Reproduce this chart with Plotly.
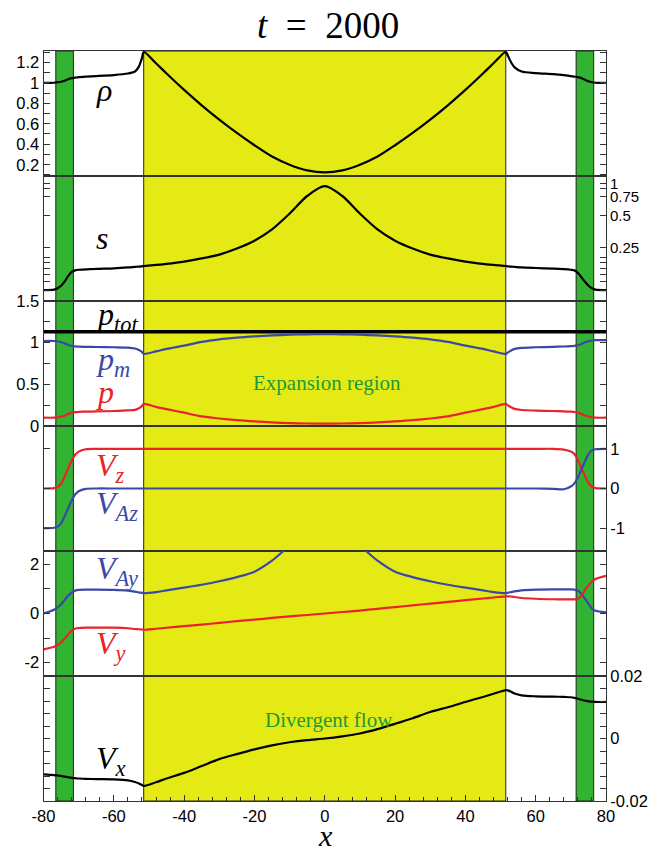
import plotly.graph_objects as go

# ---- sample positions along x (shared by all profiles) ----
x = [-80, -77, -76, -75, -74, -73, -72, -71, -70, -68, -65, -60, -56, -54, -53, -52, -51.5,
     -48, -45, -40, -35, -30, -25, -20, -15, -10, -5, 0, 5, 10, 15, 20, 25, 30, 35, 40, 45, 48,
     51.5, 52, 53, 54, 56, 60, 65, 68, 70, 71, 72, 73, 74, 75, 76, 77, 80]

rho = [1.00, 1.00, 1.005, 1.01, 1.02, 1.035, 1.045, 1.05, 1.055, 1.06, 1.065, 1.075, 1.09, 1.11, 1.15, 1.24, 1.30,
       1.19, 1.09, 0.93, 0.78, 0.64, 0.51, 0.39, 0.28, 0.20, 0.145, 0.125, 0.145, 0.20, 0.28, 0.39, 0.51, 0.64, 0.78, 0.93, 1.09, 1.19,
       1.30, 1.27, 1.20, 1.15, 1.11, 1.095, 1.085, 1.075, 1.065, 1.06, 1.055, 1.045, 1.03, 1.015, 1.005, 1.00, 1.00]

s = [0.100, 0.101, 0.104, 0.110, 0.120, 0.135, 0.148, 0.153, 0.155, 0.156, 0.158, 0.160, 0.163, 0.165, 0.166, 0.167, 0.168,
     0.172, 0.176, 0.185, 0.198, 0.215, 0.245, 0.29, 0.37, 0.52, 0.76, 0.94, 0.76, 0.52, 0.37, 0.29, 0.245, 0.215, 0.198, 0.185, 0.176, 0.172,
     0.168, 0.167, 0.166, 0.165, 0.163, 0.161, 0.159, 0.157, 0.155, 0.153, 0.145, 0.132, 0.120, 0.110, 0.104, 0.101, 0.100]

p = [0.100, 0.100, 0.105, 0.112, 0.124, 0.143, 0.159, 0.166, 0.170, 0.172, 0.175, 0.180, 0.188, 0.193, 0.210, 0.239, 0.265,
     0.230, 0.203, 0.160, 0.115, 0.090, 0.070, 0.055, 0.043, 0.035, 0.030, 0.028, 0.030, 0.035, 0.043, 0.055, 0.070, 0.090, 0.115, 0.160, 0.203, 0.230,
     0.265, 0.250, 0.225, 0.205, 0.192, 0.185, 0.180, 0.176, 0.172, 0.168, 0.160, 0.145, 0.126, 0.113, 0.105, 0.100, 0.100]

pm = [1.020, 1.020, 1.015, 1.005, 0.990, 0.975, 0.960, 0.955, 0.952, 0.950, 0.948, 0.945, 0.940, 0.930, 0.915, 0.890, 0.865,
      0.895, 0.925, 0.965, 1.010, 1.040, 1.060, 1.075, 1.087, 1.095, 1.100, 1.102, 1.100, 1.095, 1.087, 1.075, 1.060, 1.040, 1.010, 0.965, 0.925, 0.895,
      0.865, 0.880, 0.905, 0.925, 0.938, 0.945, 0.950, 0.954, 0.958, 0.962, 0.970, 0.985, 1.004, 1.017, 1.025, 1.030, 1.030]

x_ends = [-80, 80]
ptot = [1.13, 1.13]

vz = [0.0, 0.01, 0.04, 0.12, 0.30, 0.50, 0.70, 0.85, 0.93, 0.99, 1.0, 1.0, 1.0, 1.0, 1.0, 1.0, 1.0,
      1.0, 1.0, 1.0, 1.0, 1.0, 1.0, 1.0, 1.0, 1.0, 1.0, 1.0, 1.0, 1.0, 1.0, 1.0, 1.0, 1.0, 1.0, 1.0, 1.0, 1.0,
      1.0, 1.0, 1.0, 1.0, 1.0, 1.0, 1.0, 0.98, 0.93, 0.87, 0.72, 0.52, 0.32, 0.14, 0.04, 0.01, 0.0]

vaz = [-1.0, -0.99, -0.96, -0.88, -0.70, -0.50, -0.30, -0.15, -0.07, -0.01, 0.0, 0.0, 0.0, 0.0, 0.0, 0.0, 0.0,
       0.0, 0.0, 0.0, 0.0, 0.0, 0.0, 0.0, 0.0, 0.0, 0.0, 0.0, 0.0, 0.0, 0.0, 0.0, 0.0, 0.0, 0.0, 0.0, 0.0, 0.0,
       0.0, 0.0, 0.0, 0.0, 0.0, 0.0, -0.01, -0.02, 0.05, 0.13, 0.28, 0.48, 0.68, 0.86, 0.96, 0.99, 1.0]

vy = [-1.46, -1.35, -1.28, -1.18, -1.02, -0.85, -0.70, -0.62, -0.59, -0.575, -0.57, -0.575, -0.60, -0.63, -0.64, -0.65, -0.66,
      -0.62, -0.58, -0.51, -0.45, -0.38, -0.31, -0.25, -0.18, -0.12, -0.06, 0.0, 0.06, 0.12, 0.19, 0.26, 0.33, 0.40, 0.47, 0.54, 0.61, 0.65,
      0.70, 0.70, 0.69, 0.67, 0.63, 0.60, 0.58, 0.575, 0.57, 0.575, 0.60, 0.72, 0.95, 1.15, 1.30, 1.40, 1.53]

vay = [0.0, 0.15, 0.25, 0.38, 0.55, 0.72, 0.85, 0.93, 0.96, 0.97, 0.97, 0.96, 0.93, 0.89, 0.86, 0.84, 0.83,
       0.87, 0.94, 1.05, 1.17, 1.31, 1.48, 1.70, 2.15, 2.75, 3.20, 3.40, 3.20, 2.75, 2.15, 1.70, 1.48, 1.31, 1.17, 1.05, 0.94, 0.87,
       0.83, 0.84, 0.87, 0.90, 0.94, 0.97, 0.98, 0.98, 0.98, 0.97, 0.93, 0.80, 0.60, 0.40, 0.20, 0.11, 0.05]

vx = [-0.0115, -0.0117, -0.0118, -0.0120, -0.0122, -0.0124, -0.0126, -0.0127, -0.0128, -0.0129, -0.0130, -0.0131, -0.0134, -0.0139, -0.0143, -0.0149, -0.0152,
      -0.0140, -0.0128, -0.0110, -0.0088, -0.0066, -0.0050, -0.0035, -0.0022, -0.0012, -0.0005, 0.0, 0.0007, 0.0016, 0.0030, 0.0047, 0.0065, 0.0085, 0.0100, 0.0117, 0.0133, 0.0143,
      0.0155, 0.0154, 0.0150, 0.0144, 0.0138, 0.0135, 0.0134, 0.0133, 0.0132, 0.0130, 0.0127, 0.0124, 0.0121, 0.0119, 0.0118, 0.0117, 0.0117]

# region boundaries
expansion_edges = [-51.5, 51.5]
current_sheets = [[-76.5, -71.5], [71.5, 76.5]]

x_ticks = [-80, -60, -40, -20, 0, 20, 40, 60, 80]
x_tick_text = ["-80", "-60", "-40", "-20", "0", "20", "40", "60", "80"]

W, H = 650, 854
RED = "#E8232B"
BLUE = "#3A48A8"
YELLOW = "#E5EA14"
GREEN = "#32B432"
TXTGREEN = "#1B9A3A"
SERIF = "Liberation Serif"
SANS = "Liberation Sans"


def px(v):
    return v / W


def py(v):
    return 1 - v / H


# panel edges in pixels (top to bottom)
edges = [51, 176, 301, 426, 551, 676, 801]
xdom = [px(43.5), px(606)]

fig = go.Figure()

LW = 2.2


def add(xs, ys, k, color, width=LW):
    fig.add_trace(go.Scatter(x=xs, y=ys, xaxis="x" if k == 1 else f"x{k}",
                             yaxis="y" if k == 1 else f"y{k}", mode="lines",
                             line=dict(color=color, width=width, shape="spline", smoothing=0.8),
                             showlegend=False, hoverinfo="skip"))


add(x, rho, 1, "black")
add(x, s, 2, "black")
add(x_ends, ptot, 3, "black", 3.5)
add(x, pm, 3, BLUE)
add(x, p, 3, RED)
add(x, vz, 4, RED)
add(x, vaz, 4, BLUE)
add(x, vay, 5, BLUE)
add(x, vy, 5, RED)
add(x, vx, 6, "black")

tickfont = dict(family=SANS, size=16.5, color="black")
axline = dict(showline=True, linecolor="#333333", linewidth=1, showgrid=False, zeroline=False,
              automargin=False)

layout = dict(width=W, height=H, margin=dict(l=0, r=0, t=0, b=0, autoexpand=False),
              paper_bgcolor="white", plot_bgcolor="rgba(0,0,0,0)", showlegend=False)

for k in range(1, 7):
    xa = "xaxis" if k == 1 else f"xaxis{k}"
    ya = "yaxis" if k == 1 else f"yaxis{k}"
    yname = "y" if k == 1 else f"y{k}"
    xname = "x" if k == 1 else f"x{k}"
    dom = [py(edges[k]), py(edges[k - 1])]
    xd = dict(domain=xdom, range=[-80, 80], anchor=yname, mirror=True, **axline)
    if k < 6:
        xd.update(showticklabels=False, ticks="")
    else:
        xd.update(tickvals=x_ticks, ticktext=x_tick_text, ticks="inside", ticklen=6,
                  tickcolor="#333333", tickfont=dict(family=SANS, size=16.5, color="black"),
                  minor=dict(dtick=4, ticks="inside", ticklen=4, tickcolor="#333333"))
    if k > 1:
        xd["matches"] = "x"
    layout[xa] = xd
    layout[ya] = dict(domain=dom, anchor=xname, mirror="ticks", ticks="inside", ticklen=6,
                      tickcolor="#333333", tickfont=tickfont, **axline)

layout["yaxis"].update(range=[0.09, 1.31], tickvals=[0.2, 0.4, 0.6, 0.8, 1.0, 1.2],
                       ticktext=["0.2", "0.4", "0.6", "0.8", "1", "1.2"],
                       minor=dict(dtick=0.1, ticks="inside", ticklen=6, tickcolor="#333333"))
s_ticks = [1.0, 0.9, 0.75, 0.5, 0.25, 0.2, 0.18, 0.16, 0.14, 0.12, 0.1]
s_text = ["1", "", "0.75", "0.5", "0.25", "", "", "", "", "", ""]
layout["yaxis2"].update(type="log", range=[-1.102, 0.068], side="right",
                        tickvals=s_ticks, ticktext=s_text,
                        tickfont=dict(family=SANS, size=15, color="black"))
layout["yaxis3"].update(range=[0, 1.5], tickvals=[0, 0.5, 1, 1.5], ticktext=["0", "0.5", "1", "1.5"],
                        minor=dict(dtick=0.25, ticks="inside", ticklen=6, tickcolor="#333333"))
layout["yaxis4"].update(range=[-1.575, 1.575], side="right", tickvals=[-1, 0, 1],
                        ticktext=["-1", "0", "1"])
layout["yaxis5"].update(range=[-2.54, 2.54], tickvals=[-2, 0, 2], ticktext=["-2", "0", "2"],
                        minor=dict(dtick=1, ticks="inside", ticklen=6, tickcolor="#333333"))
layout["yaxis6"].update(range=[-0.02, 0.02], side="right", tickvals=[-0.02, 0, 0.02],
                        ticktext=["-0.02", "0", "0.02"],
                        minor=dict(dtick=0.004, ticks="inside", ticklen=6, tickcolor="#333333"))

fig.update_layout(**layout)

# shaded regions spanning all panels
ybot, ytop = py(edges[-1]), py(edges[0])
fig.add_shape(type="rect", xref="x", yref="paper", x0=expansion_edges[0], x1=expansion_edges[1],
              y0=ybot, y1=ytop, fillcolor=YELLOW, line=dict(color="#222222", width=1), layer="below")
for a, b in current_sheets:
    fig.add_shape(type="rect", xref="x", yref="paper", x0=a, x1=b, y0=ybot, y1=ytop,
                  fillcolor=GREEN, line=dict(color="#222222", width=1), layer="below")


def label(text, xp, yp, color="black", size=32, family=SERIF, xanchor="left", yanchor="middle"):
    fig.add_annotation(text=text, x=px(xp), y=py(yp), xref="paper", yref="paper",
                       xanchor=xanchor, yanchor=yanchor, showarrow=False, borderpad=0,
                       font=dict(family=family, size=size, color=color))


label("<i>ρ</i>", 95, 90)
label("<i>s</i>", 95, 238)
label("<i>p</i><sub><i>tot</i></sub>", 95, 316)
label("<i>p</i><sub><i>m</i></sub>", 95, 361, BLUE)
label("<i>p</i>", 95, 392, RED)
label("<i>V</i><sub><i>z</i></sub>", 95, 467, RED)
label("<i>V</i><sub><i>Az</i></sub>", 95, 505, BLUE)
label("<i>V</i><sub><i>Ay</i></sub>", 95, 570, BLUE)
label("<i>V</i><sub><i>y</i></sub>", 95, 645, RED)
label("<i>V</i><sub><i>x</i></sub>", 95, 760)

label("Expansion region", 327, 383, TXTGREEN, 21, xanchor="center")
label("Divergent flow", 329, 720, TXTGREEN, 21, xanchor="center")

label("<i>t</i>&nbsp;&nbsp;=&nbsp;&nbsp;2000", 328, 25, "black", 37, xanchor="center")
label("<i>x</i>", 325, 853, "black", 30, xanchor="center", yanchor="bottom")

fig.write_html("out.html")
